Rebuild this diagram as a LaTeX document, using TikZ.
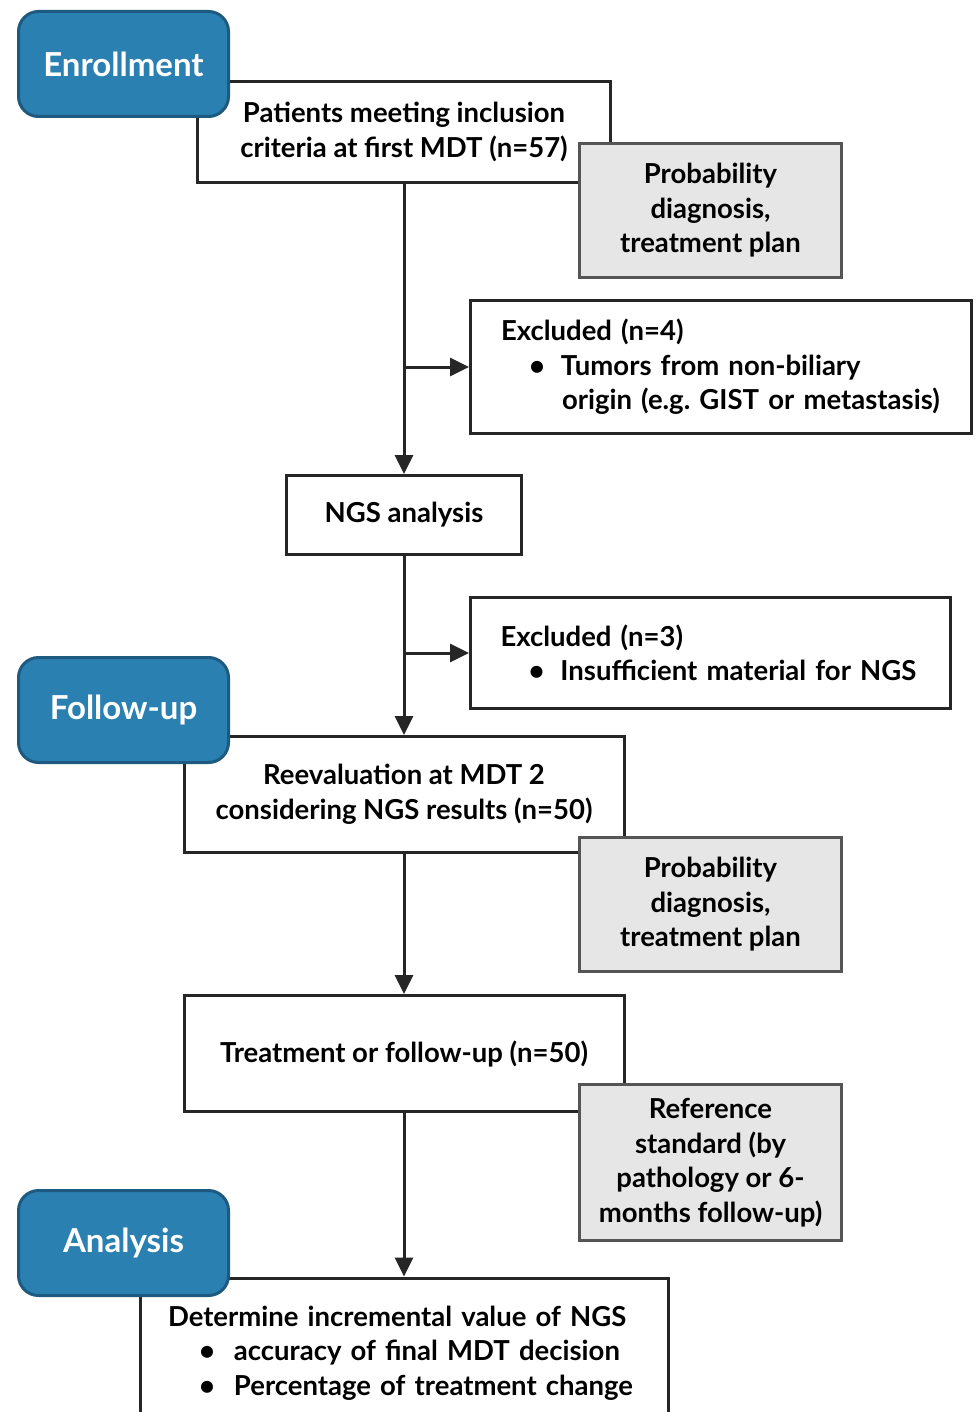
\documentclass[tikz,border=0pt]{standalone}
\usepackage{fontspec}
\setmainfont{Lato}
\usetikzlibrary{positioning}
\usetikzlibrary{arrows.meta}

\definecolor{stagefill}{HTML}{2A80B1}
\definecolor{stageborder}{HTML}{1E5A80}
\definecolor{grayfill}{HTML}{E6E6E6}
\definecolor{grayborder}{HTML}{555555}

\begin{document}
\frenchspacing
\begin{tikzpicture}[x=1pt, y=-1pt,
        stagenode/.style={draw=stageborder, fill=stagefill, line width=3pt, rounded corners=20pt, minimum width=210pt, minimum height=105pt, text=white, font=\fontsize{33}{36}\selectfont\bfseries},
        boxnode/.style={draw=black!85, fill=white, line width=3pt, align=center, inner sep=0pt, font=\fontsize{27.5}{34.5}\selectfont\bfseries},
        graynode/.style={boxnode, draw=grayborder, fill=grayfill, minimum width=262pt},
        exclnode/.style={boxnode, align=left},
        flow/.style={line width=3pt, draw=black!85, -{Triangle[length=19pt, width=18pt]}}]
        \useasboundingbox (0,0) rectangle (975,1412);
        \clip (0,0) rectangle (975,1412);

        % main flow
        \node[boxnode, minimum width=413pt, minimum height=101pt] (main1) at (404,132) {Patients meeting inclusion\\criteria at first MDT (n=57)};
        \node[boxnode, minimum width=235pt, minimum height=79pt] (main2) at (404,515) {NGS analysis};
        \node[boxnode, minimum width=440pt, minimum height=116pt] (main3) at (404,794.5) {Reevaluation at MDT 2\\considering NGS results (n=50)};
        \node[boxnode, minimum width=440pt, minimum height=116pt] (main4) at (404,1053.5) {Treatment or follow-up (n=50)};
        \node[exclnode, minimum width=528pt, minimum height=150pt, text width=472pt] (main5) at (404,1353) {Determine incremental value of NGS\\
            \hspace*{31pt}\textbullet\hspace{19pt}accuracy of final MDT decision\\
            \hspace*{31pt}\textbullet\hspace{19pt}Percentage of treatment change};

        % excluded
        \node[exclnode, minimum width=501pt, minimum height=133pt, text width=440pt] (excl1) at (721,367) {Excluded (n=4)\\
            \hspace*{28pt}\textbullet\hspace{16pt}Tumors from non-biliary\\
            \hspace*{61pt}origin (e.g. GIST or metastasis)};
        \node[exclnode, minimum width=480pt, minimum height=111pt, text width=420pt] (excl2) at (710.5,653) {Excluded (n=3)\\
            \hspace*{28pt}\textbullet\hspace{16pt}Insufficient material for NGS};

        % gray notes
        \node[graynode, minimum height=134pt] (gray1) at (710.5,210.5) {Probability\\diagnosis,\\treatment plan};
        \node[graynode, minimum height=134pt] (gray2) at (710.5,904.5) {Probability\\diagnosis,\\treatment plan};
        \node[graynode, minimum height=156pt] (gray3) at (710.5,1162.5) {Reference\\standard (by\\pathology or 6-\\months follow-up)};

        % stages
        \node[stagenode] (stage1) at (123.5,64) {Enrollment};
        \node[stagenode] (stage2) at (123.5,710) {Follow-up};
        \node[stagenode] (stage3) at (123.5,1243) {Analysis};

        \coordinate (split1) at (main1.south |- excl1.west);
        \coordinate (split2) at (main2.south |- excl2.west);

        \draw[flow] (main1) -- (main2);
        \draw[flow] (split1) -- (excl1);
        \draw[flow] (main2) -- (main3);
        \draw[flow] (split2) -- (excl2);
        \draw[flow] (main3) -- (main4);
        \draw[flow] (main4) -- (main5);
    \end{tikzpicture}
\end{document}
